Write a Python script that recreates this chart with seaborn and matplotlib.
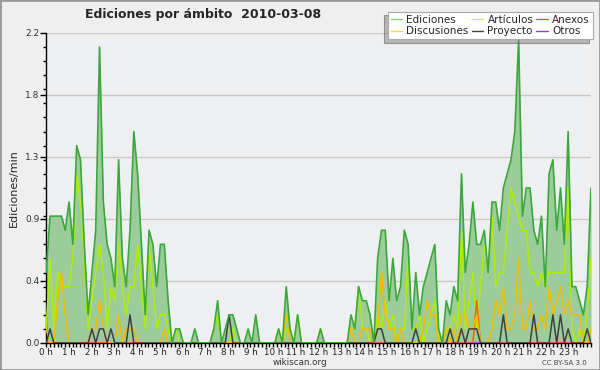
import matplotlib
matplotlib.use("Agg")
import matplotlib.pyplot as plt
from matplotlib.lines import Line2D
from matplotlib.patches import Rectangle
from matplotlib.ticker import FixedLocator, MultipleLocator
import numpy as np
import pandas as pd
import seaborn as sns

# Ediciones/min per 10-minute slot, 2010-03-08 (one row = 2 hours)
ediciones = [
    0.5, 0.9, 0.9, 0.9, 0.9, 0.8, 1.0, 0.7, 1.4, 1.3, 0.7, 0.2,
    0.5, 0.8, 2.1, 1.0, 0.7, 0.6, 0.4, 1.3, 0.6, 0.4, 0.8, 1.5,
    1.2, 0.7, 0.2, 0.8, 0.7, 0.4, 0.7, 0.7, 0.3, 0.0, 0.1, 0.1,
    0.0, 0.0, 0.0, 0.1, 0.0, 0.0, 0.0, 0.0, 0.1, 0.3, 0.0, 0.1,
    0.2, 0.2, 0.1, 0.0, 0.0, 0.1, 0.0, 0.2, 0.0, 0.0, 0.0, 0.0,
    0.0, 0.1, 0.0, 0.4, 0.1, 0.0, 0.2, 0.0, 0.0, 0.0, 0.0, 0.0,
    0.1, 0.0, 0.0, 0.0, 0.0, 0.0, 0.0, 0.0, 0.2, 0.1, 0.4, 0.3,
    0.3, 0.2, 0.0, 0.6, 0.8, 0.8, 0.3, 0.6, 0.3, 0.4, 0.8, 0.7,
    0.1, 0.5, 0.2, 0.4, 0.5, 0.6, 0.7, 0.1, 0.0, 0.3, 0.2, 0.4,
    0.3, 1.2, 0.5, 0.7, 1.0, 0.7, 0.7, 0.8, 0.5, 1.0, 1.0, 0.8,
    1.1, 1.2, 1.3, 1.5, 2.15, 0.9, 1.1, 1.1, 0.8, 0.7, 0.9, 0.4,
    1.2, 1.3, 0.8, 1.1, 0.7, 1.5, 0.4, 0.4, 0.3, 0.2, 0.4, 1.1,
]
articulos = [
    0.1, 0.6, 0.1, 0.5, 0.4, 0.4, 0.4, 0.6, 1.2, 1.0, 0.6, 0.1,
    0.3, 0.5, 0.7, 0.5, 0.1, 0.4, 0.3, 0.7, 0.4, 0.2, 0.4, 0.4,
    0.7, 0.4, 0.1, 0.7, 0.4, 0.1, 0.2, 0.2, 0.1, 0.0, 0.1, 0.0,
    0.0, 0.0, 0.0, 0.0, 0.0, 0.0, 0.0, 0.0, 0.1, 0.2, 0.0, 0.0,
    0.0, 0.1, 0.0, 0.0, 0.0, 0.0, 0.0, 0.0, 0.0, 0.0, 0.0, 0.0,
    0.0, 0.1, 0.0, 0.1, 0.1, 0.0, 0.2, 0.0, 0.0, 0.0, 0.0, 0.0,
    0.1, 0.0, 0.0, 0.0, 0.0, 0.0, 0.0, 0.0, 0.1, 0.1, 0.4, 0.1,
    0.1, 0.0, 0.0, 0.2, 0.1, 0.3, 0.1, 0.2, 0.0, 0.1, 0.1, 0.6,
    0.1, 0.1, 0.2, 0.0, 0.1, 0.2, 0.3, 0.0, 0.0, 0.1, 0.1, 0.2,
    0.1, 0.8, 0.1, 0.3, 0.5, 0.1, 0.4, 0.7, 0.5, 0.9, 0.4, 0.5,
    0.5, 0.8, 1.1, 1.0, 0.9, 0.8, 0.8, 0.5, 0.5, 0.4, 0.5, 0.4,
    0.5, 0.5, 0.5, 0.5, 0.5, 1.1, 0.1, 0.0, 0.1, 0.0, 0.2, 0.6,
]
discusiones = [
    0.1, 0.0, 0.0, 0.3, 0.5, 0.2, 0.0, 0.0, 0.0, 0.0, 0.0, 0.0,
    0.1, 0.1, 0.3, 0.1, 0.0, 0.0, 0.0, 0.2, 0.0, 0.1, 0.1, 0.1,
    0.0, 0.0, 0.0, 0.0, 0.0, 0.0, 0.0, 0.1, 0.0, 0.0, 0.0, 0.0,
    0.0, 0.0, 0.0, 0.0, 0.0, 0.0, 0.0, 0.0, 0.0, 0.0, 0.0, 0.0,
    0.0, 0.0, 0.0, 0.0, 0.0, 0.0, 0.0, 0.0, 0.0, 0.0, 0.0, 0.0,
    0.0, 0.0, 0.0, 0.2, 0.0, 0.0, 0.0, 0.0, 0.0, 0.0, 0.0, 0.0,
    0.0, 0.0, 0.0, 0.0, 0.0, 0.0, 0.0, 0.0, 0.1, 0.0, 0.0, 0.1,
    0.1, 0.1, 0.0, 0.1, 0.5, 0.2, 0.1, 0.1, 0.0, 0.1, 0.0, 0.0,
    0.0, 0.0, 0.0, 0.1, 0.3, 0.2, 0.2, 0.0, 0.0, 0.1, 0.0, 0.1,
    0.0, 0.2, 0.2, 0.1, 0.1, 0.2, 0.0, 0.0, 0.0, 0.1, 0.3, 0.2,
    0.4, 0.1, 0.1, 0.2, 0.6, 0.1, 0.1, 0.3, 0.1, 0.1, 0.2, 0.1,
    0.4, 0.2, 0.3, 0.4, 0.2, 0.3, 0.2, 0.2, 0.2, 0.0, 0.0, 0.1,
]
anexos = [
    0.0, 0.0, 0.0, 0.0, 0.0, 0.0, 0.0, 0.0, 0.0, 0.0, 0.0, 0.0,
    0.0, 0.0, 0.0, 0.0, 0.0, 0.0, 0.0, 0.0, 0.0, 0.0, 0.0, 0.0,
    0.0, 0.0, 0.0, 0.0, 0.0, 0.0, 0.0, 0.0, 0.0, 0.0, 0.0, 0.0,
    0.0, 0.0, 0.0, 0.0, 0.0, 0.0, 0.0, 0.0, 0.0, 0.0, 0.0, 0.0,
    0.0, 0.0, 0.0, 0.0, 0.0, 0.0, 0.0, 0.0, 0.0, 0.0, 0.0, 0.0,
    0.0, 0.0, 0.0, 0.0, 0.0, 0.0, 0.0, 0.0, 0.0, 0.0, 0.0, 0.0,
    0.0, 0.0, 0.0, 0.0, 0.0, 0.0, 0.0, 0.0, 0.0, 0.0, 0.0, 0.0,
    0.0, 0.0, 0.0, 0.0, 0.0, 0.0, 0.0, 0.0, 0.0, 0.0, 0.0, 0.0,
    0.0, 0.0, 0.0, 0.0, 0.0, 0.0, 0.0, 0.0, 0.0, 0.0, 0.0, 0.0,
    0.0, 0.0, 0.0, 0.0, 0.0, 0.3, 0.0, 0.0, 0.0, 0.0, 0.0, 0.0,
    0.0, 0.0, 0.0, 0.0, 0.0, 0.0, 0.0, 0.0, 0.0, 0.0, 0.0, 0.0,
    0.0, 0.0, 0.0, 0.0, 0.0, 0.0, 0.0, 0.0, 0.0, 0.0, 0.0, 0.0,
]
proyecto = [
    0.0, 0.1, 0.0, 0.0, 0.0, 0.0, 0.0, 0.0, 0.0, 0.0, 0.0, 0.0,
    0.1, 0.0, 0.1, 0.1, 0.0, 0.1, 0.0, 0.0, 0.0, 0.0, 0.2, 0.0,
    0.0, 0.0, 0.0, 0.0, 0.0, 0.0, 0.0, 0.0, 0.0, 0.0, 0.0, 0.0,
    0.0, 0.0, 0.0, 0.0, 0.0, 0.0, 0.0, 0.0, 0.0, 0.0, 0.0, 0.0,
    0.2, 0.0, 0.0, 0.0, 0.0, 0.0, 0.0, 0.0, 0.0, 0.0, 0.0, 0.0,
    0.0, 0.0, 0.0, 0.0, 0.0, 0.0, 0.0, 0.0, 0.0, 0.0, 0.0, 0.0,
    0.0, 0.0, 0.0, 0.0, 0.0, 0.0, 0.0, 0.0, 0.0, 0.0, 0.0, 0.0,
    0.0, 0.0, 0.0, 0.1, 0.1, 0.0, 0.0, 0.0, 0.0, 0.0, 0.0, 0.0,
    0.0, 0.1, 0.0, 0.0, 0.0, 0.0, 0.0, 0.0, 0.0, 0.0, 0.1, 0.0,
    0.0, 0.1, 0.0, 0.1, 0.1, 0.1, 0.0, 0.0, 0.0, 0.0, 0.0, 0.0,
    0.2, 0.0, 0.0, 0.0, 0.0, 0.0, 0.0, 0.0, 0.2, 0.0, 0.0, 0.0,
    0.0, 0.2, 0.0, 0.2, 0.0, 0.1, 0.0, 0.0, 0.0, 0.0, 0.1, 0.0,
]
otros = [
    0.0, 0.0, 0.0, 0.0, 0.0, 0.0, 0.0, 0.0, 0.0, 0.0, 0.0, 0.0,
    0.0, 0.0, 0.0, 0.0, 0.0, 0.0, 0.0, 0.0, 0.0, 0.0, 0.0, 0.0,
    0.0, 0.0, 0.0, 0.0, 0.0, 0.0, 0.0, 0.0, 0.0, 0.0, 0.0, 0.0,
    0.0, 0.0, 0.0, 0.0, 0.0, 0.0, 0.0, 0.0, 0.0, 0.0, 0.0, 0.0,
    0.0, 0.0, 0.0, 0.0, 0.0, 0.0, 0.0, 0.0, 0.0, 0.0, 0.0, 0.0,
    0.0, 0.0, 0.0, 0.0, 0.0, 0.0, 0.0, 0.0, 0.0, 0.0, 0.0, 0.0,
    0.0, 0.0, 0.0, 0.0, 0.0, 0.0, 0.0, 0.0, 0.0, 0.0, 0.0, 0.0,
    0.0, 0.0, 0.0, 0.0, 0.0, 0.0, 0.0, 0.0, 0.0, 0.0, 0.0, 0.0,
    0.0, 0.0, 0.0, 0.0, 0.0, 0.0, 0.0, 0.0, 0.0, 0.0, 0.0, 0.0,
    0.0, 0.0, 0.0, 0.0, 0.0, 0.0, 0.0, 0.0, 0.0, 0.0, 0.0, 0.0,
    0.0, 0.0, 0.0, 0.0, 0.0, 0.0, 0.0, 0.0, 0.0, 0.0, 0.0, 0.0,
    0.0, 0.0, 0.0, 0.0, 0.0, 0.0, 0.0, 0.0, 0.0, 0.0, 0.0, 0.0,
]

hour_labels = [f"{h} h" for h in range(24)]
y_ticks = [0.0, 0.44, 0.88, 1.32, 1.76, 2.2]

# time of each slot in hours (slots run across the whole day)
hours = np.linspace(0, 24, len(ediciones))
df = pd.DataFrame({
    "hora": hours,
    "Ediciones": ediciones,
    "Artículos": articulos,
    "Anexos": anexos,
    "Discusiones": discusiones,
    "Proyecto": proyecto,
    "Otros": otros,
})

colors = {
    "Ediciones": "#3aa83a",
    "Artículos": "#b0ee00",
    "Anexos": "#ff5a1a",
    "Discusiones": "#f2bc00",
    "Proyecto": "#404040",
    "Otros": "#8a3cf0",
}
legend_colors = dict(colors, Ediciones="#7fd27f", Artículos="#c8f060", Discusiones="#ffd050")

sns.set_style("white")
plt.rcParams["font.family"] = ["DejaVu Sans"]

fig = plt.figure(figsize=(6, 3.7), dpi=100, facecolor="#efefef")
ax = fig.add_axes([0.077, 0.073, 0.908, 0.838])
ax.set_facecolor("#eeeff0")

# area for the total, then the namespaces on top
_ = ax.fill_between(df["hora"], df["Ediciones"], color="#9ccb9c", lw=0, zorder=1)
for name in ["Otros", "Artículos", "Anexos", "Discusiones", "Proyecto"]:
    sns.lineplot(data=df, x="hora", y=name, ax=ax, color=colors[name], lw=1.1, zorder=3)
sns.lineplot(data=df, x="hora", y="Ediciones", ax=ax, color=colors["Ediciones"], lw=1.2, zorder=4)

ax.set_xlim(0, 24)
ax.set_ylim(0, 2.2)
ax.xaxis.set_major_locator(FixedLocator(range(24)))
ax.set_xticklabels(hour_labels)
ax.xaxis.set_minor_locator(MultipleLocator(1 / 6))
ax.yaxis.set_major_locator(FixedLocator(y_ticks))
ax.set_yticklabels([f"{v:.1f}" for v in y_ticks])
ax.yaxis.set_minor_locator(MultipleLocator(0.1))
ax.tick_params(axis="x", which="both", bottom=True, direction="out", length=3, width=1,
               color="black", labelsize=6.3, pad=0.5, labelcolor="#222222")
ax.tick_params(axis="y", which="major", left=True, direction="out", length=4, width=1,
               color="black", labelsize=6.5, pad=1, labelcolor="#333333")
ax.tick_params(axis="y", which="minor", left=True, direction="out", length=2.5, width=1,
               color="black")
ax.grid(axis="y", which="major", color="#c8c8c8", lw=1)
ax.set_axisbelow(True)
for side in ["top", "right"]:
    ax.spines[side].set_visible(False)
for side in ["left", "bottom"]:
    ax.spines[side].set_color("black")
    ax.spines[side].set_linewidth(1)
ax.set_xlabel("")
ax.set_ylabel("Ediciones/min", fontsize=8, labelpad=4)

fig.text(0.142, 0.962, "Ediciones por ámbito  2010-03-08", fontsize=9,
         fontweight="bold", ha="left", va="center")
fig.text(0.5, 0.019, "wikiscan.org", fontsize=6.3, ha="center", va="center", color="#333333")
fig.text(0.978, 0.019, "CC BY-SA 3.0", fontsize=5, ha="right", va="center", color="#444444")

order = ["Ediciones", "Discusiones", "Artículos", "Proyecto", "Anexos", "Otros"]
handles = [Line2D([], [], color=legend_colors[n], lw=1) for n in order]
leg = fig.legend(handles, order, loc="upper right", bbox_to_anchor=(0.988, 0.968),
                 ncol=3, fontsize=7.5, frameon=True, fancybox=False,
                 edgecolor="#aaaaaa", framealpha=1, handlelength=1.1,
                 handletextpad=0.4, columnspacing=0.3, labelspacing=0.12,
                 borderpad=0.3, borderaxespad=0,
                 shadow={"ox": -2.5, "oy": -2.5, "facecolor": "#808080"})
leg.get_frame().set_linewidth(0.8)

fig.patches.append(Rectangle((0, 0), 1, 1, transform=fig.transFigure, fill=False,
                             edgecolor="#9a9a9a", lw=2))

fig.savefig("out.png", dpi=100, facecolor=fig.get_facecolor())
